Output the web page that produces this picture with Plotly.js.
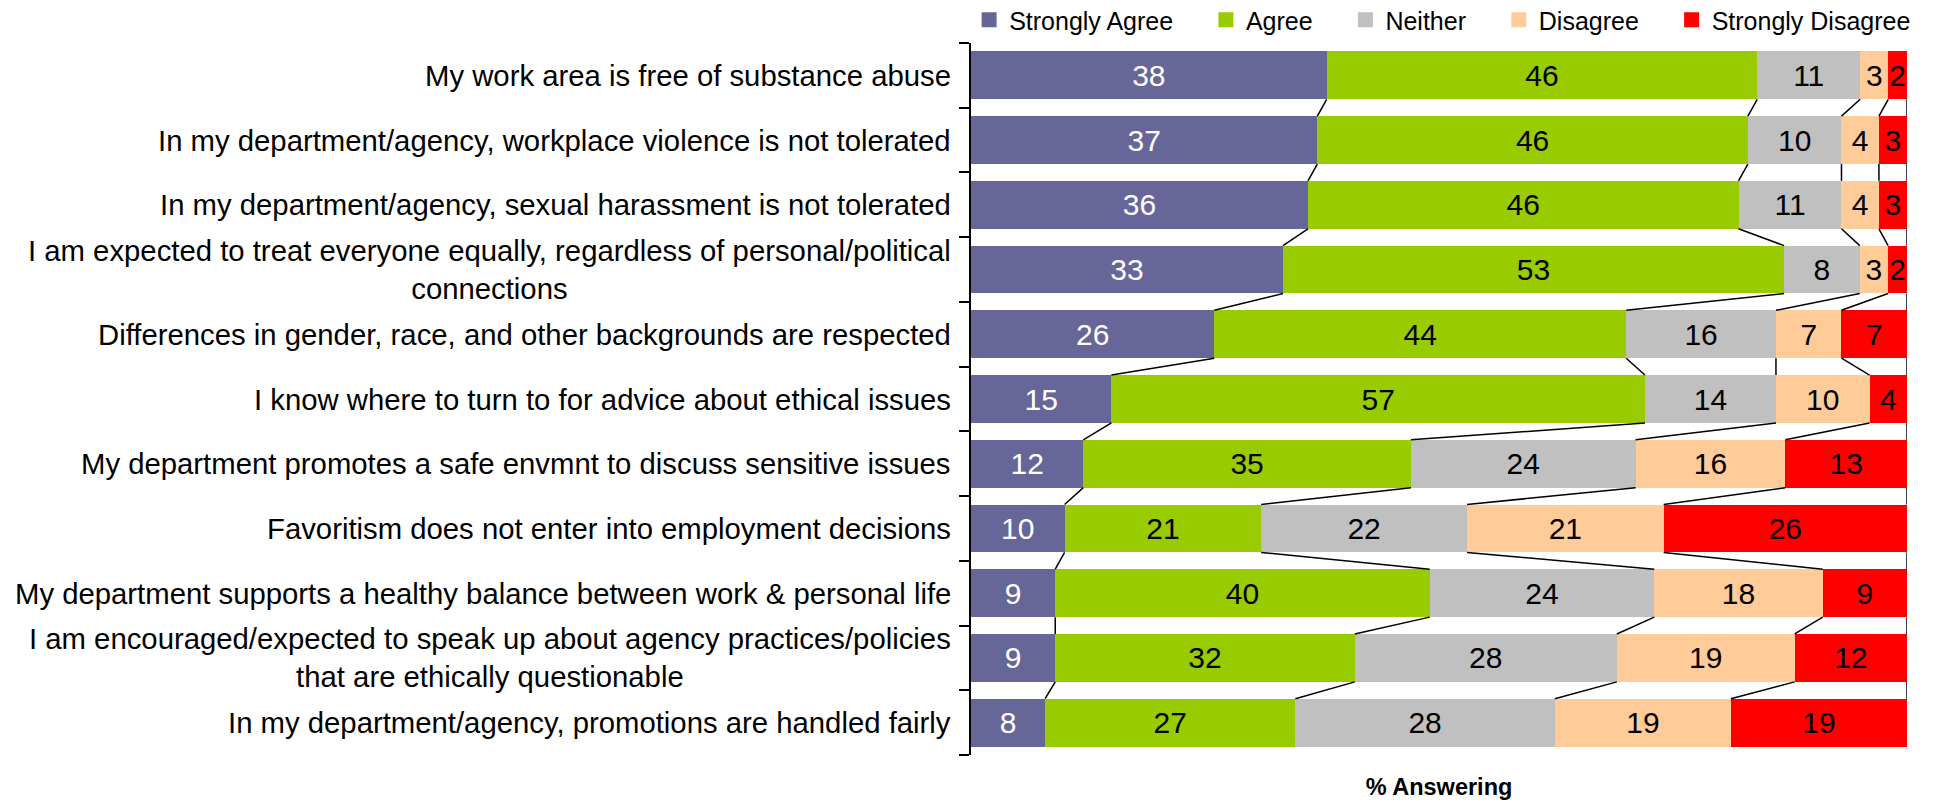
<!DOCTYPE html>
<html>
<head>
<meta charset="utf-8">
<script src="https://cdn.plot.ly/plotly-3.0.1.min.js"></script>
<style>html,body{margin:0;padding:0;background:#fff;}#chart{width:1940px;height:803px;}</style>
</head>
<body>
<div id="chart"></div>
<script>
// ---- data ----
const categories = [
  "My work area is free of substance abuse",
  "In my department/agency, workplace violence is not tolerated",
  "In my department/agency, sexual harassment is not tolerated",
  "I am expected to treat everyone equally, regardless of personal/political<br>connections",
  "Differences in gender, race, and other backgrounds are respected",
  "I know where to turn to for advice about ethical issues",
  "My department promotes a safe envmnt to discuss sensitive issues",
  "Favoritism does not enter into employment decisions",
  "My department supports a healthy balance between work & personal life",
  "I am encouraged/expected to speak up about agency practices/policies<br>that are ethically questionable",
  "In my department/agency, promotions are handled fairly"
];
const seriesNames = ["Strongly Agree", "Agree", "Neither", "Disagree", "Strongly Disagree"];
const stronglyAgree    = [38, 37, 36, 33, 26, 15, 12, 10,  9,  9,  8];
const agree            = [46, 46, 46, 53, 44, 57, 35, 21, 40, 32, 27];
const neither          = [11, 10, 11,  8, 16, 14, 24, 22, 24, 28, 28];
const disagree         = [ 3,  4,  4,  3,  7, 10, 16, 21, 18, 19, 19];
const stronglyDisagree = [ 2,  3,  3,  2,  7,  4, 13, 26,  9, 12, 19];
const seriesColors = ["#666699", "#99CC00", "#C0C0C0", "#FFCC99", "#FF0000"];
const textColors   = ["#FFFFFF", "#000000", "#000000", "#000000", "#000000"];

const seriesValues = [stronglyAgree, agree, neither, disagree, stronglyDisagree];
const FONT = "Arial, 'Liberation Sans', sans-serif";
const BARGAP = 0.26;
const LEGEND_PAD = "\u00a0\u00a0\u00a0\u00a0";
const idx = categories.map((c, i) => i);

const traces = [];
// stacked bars (normalized to 100%)
seriesValues.forEach((vals, s) => {
  traces.push({
    type: "bar", orientation: "h",
    name: seriesNames[s], legendgroup: seriesNames[s], showlegend: false,
    x: vals, y: idx,
    marker: {color: seriesColors[s], line: {width: 0}},
    text: vals.map(String), texttemplate: "%{text}",
    textposition: "inside", insidetextanchor: "middle", textangle: 0,
    constraintext: "none", cliponaxis: false,
    insidetextfont: {family: FONT, size: 30, color: textColors[s]},
    hovertemplate: "%{text}%<extra>" + seriesNames[s] + "</extra>"
  });
});
// legend entries
seriesValues.forEach((vals, s) => {
  traces.push({
    type: "bar", orientation: "h",
    name: seriesNames[s] + (s < seriesNames.length - 1 ? LEGEND_PAD : ""),
    legendgroup: seriesNames[s],
    x: [null], y: [0], showlegend: true, hoverinfo: "skip",
    marker: {color: seriesColors[s], line: {width: 3, color: seriesColors[s]}}
  });
});
// series lines between bars
const totals = idx.map(i => seriesValues.reduce((a, v) => a + v[i], 0));
const half = (1 - BARGAP) / 2;
for (let b = 0; b < seriesValues.length; b++) {
  const cum = idx.map(i => {
    let t = 0; for (let s = 0; s <= b; s++) t += seriesValues[s][i];
    return t / totals[i] * 100;
  });
  const lx = [], ly = [];
  for (let i = 0; i < idx.length - 1; i++) {
    lx.push(cum[i], cum[i + 1], null);
    ly.push(i + half, i + 1 - half, null);
  }
  traces.push({type: "scatter", mode: "lines", x: lx, y: ly, showlegend: false,
    hoverinfo: "skip", line: {color: "#000000", width: 1.5}, cliponaxis: false});
}

// category labels (centered multi-line, right-aligned block)
const labelAnnotations = categories.map((c, i) => ({
  xref: "paper", yref: "y", x: 0, y: i, xanchor: "right", yanchor: "middle",
  xshift: -19, text: c, showarrow: false, align: "center", borderpad: 0,
  font: {family: FONT, size: 29.3, color: "#000000"}
}));

const layout = {
  width: 1940, height: 803,
  paper_bgcolor: "#FFFFFF", plot_bgcolor: "#FFFFFF",
  margin: {l: 971, r: 33, t: 43, b: 48, pad: 0, autoexpand: false},
  barmode: "stack", barnorm: "percent", bargap: BARGAP,
  font: {family: FONT, color: "#000000"},
  showlegend: true,
  legend: {orientation: "h", x: -0.002, xanchor: "left", y: 1, yanchor: "bottom",
    font: {family: FONT, size: 25, color: "#000000"}, traceorder: "normal",
    bgcolor: "rgba(0,0,0,0)"},
  annotations: labelAnnotations,
  xaxis: {range: [0, 100], showticklabels: false, showgrid: false, zeroline: false,
    showline: false, ticks: "", fixedrange: true,
    title: {text: "<b>% Answering</b>", font: {family: FONT, size: 23.5, color: "#000000"}, standoff: 23}},
  yaxis: {range: [categories.length - 0.5, -0.5], tickmode: "array", tickvals: idx,
    showticklabels: false,
    ticks: "", showgrid: false, zeroline: false, showline: true, linecolor: "#000000", linewidth: 2,
    fixedrange: true,
    minor: {tickmode: "array", tickvals: idx.concat([categories.length]).map(i => i - 0.5),
      ticks: "outside", ticklen: 10, tickwidth: 2, tickcolor: "#000000", showgrid: false}}
};

Plotly.newPlot("chart", traces, layout, {displayModeBar: false, staticPlot: true});
</script>
</body>
</html>
